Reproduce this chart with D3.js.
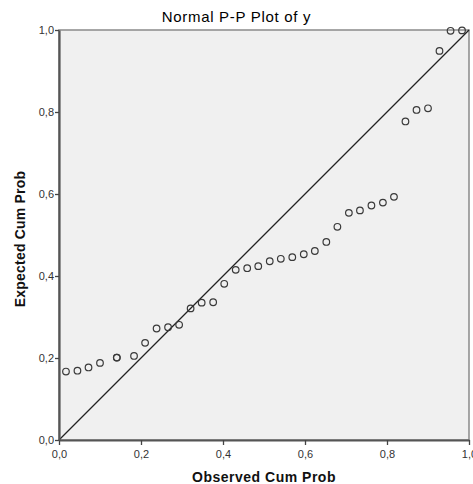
<!DOCTYPE html>
<html>
<head>
<meta charset="utf-8">
<script src="https://cdn.jsdelivr.net/npm/d3@7"></script>
<style>
  body { margin: 0; background: #fff; }
  svg { display: block; font-family: "Liberation Sans", Arial, sans-serif; }
</style>
</head>
<body>
<svg id="chart" width="473" height="484"></svg>
<script>
"use strict";
// observed cumulative probability (x) and expected cumulative probability (y)
const observed = [0.017, 0.045, 0.072, 0.100, 0.141, 0.141, 0.183, 0.210, 0.238, 0.266,
  0.293, 0.321, 0.348, 0.376, 0.403, 0.431, 0.459, 0.486, 0.514, 0.541,
  0.569, 0.597, 0.624, 0.652, 0.679, 0.707, 0.734, 0.762, 0.790, 0.817,
  0.845, 0.872, 0.900, 0.928, 0.955, 0.983];
const expected = [0.167, 0.169, 0.177, 0.188, 0.201, 0.201, 0.205, 0.237, 0.272, 0.275,
  0.281, 0.321, 0.335, 0.336, 0.381, 0.415, 0.419, 0.424, 0.436, 0.442,
  0.446, 0.453, 0.461, 0.483, 0.520, 0.554, 0.560, 0.572, 0.579, 0.593,
  0.777, 0.805, 0.809, 0.949, 0.998, 0.999];
const tickValues = [0, 0.2, 0.4, 0.6, 0.8, 1.0];

const margin = { top: 30, right: 4, bottom: 44, left: 59 };
const svg = d3.select("#chart");
const width = +svg.attr("width");
const plotW = 410, plotH = 410;

const x = d3.scaleLinear().domain([0, 1]).range([margin.left, margin.left + plotW]);
const y = d3.scaleLinear().domain([0, 1]).range([margin.top + plotH, margin.top]);

// comma as decimal separator, like the original
const fmt = d3.formatLocale({ decimal: ",", thousands: ".", grouping: [3], currency: ["", ""] }).format(".1f");

// plot background and frame
svg.append("rect")
  .attr("x", x(0)).attr("y", y(1))
  .attr("width", plotW).attr("height", plotH)
  .attr("fill", "#f0f0f0")
  .attr("stroke", "#8a8a8a")
  .attr("stroke-width", 1.5);

// reference line
svg.append("line")
  .attr("x1", x(0)).attr("y1", y(0))
  .attr("x2", x(1)).attr("y2", y(1))
  .attr("stroke", "#222")
  .attr("stroke-width", 1.3);

// points
const pts = observed.map((d, i) => ({ o: d, e: expected[i] }));
svg.append("g").selectAll("circle").data(pts).join("circle")
  .attr("cx", d => x(d.o))
  .attr("cy", d => y(d.e))
  .attr("r", 3.3)
  .attr("fill", "none")
  .attr("stroke", "#3a3a3a")
  .attr("stroke-width", 1.2);

// axes
const xAxis = svg.append("g")
  .attr("transform", `translate(0,${y(0)})`)
  .call(d3.axisBottom(x).tickValues(tickValues).tickFormat(fmt).tickSize(5).tickSizeOuter(0));
const yAxis = svg.append("g")
  .attr("transform", `translate(${x(0)},0)`)
  .call(d3.axisLeft(y).tickValues(tickValues).tickFormat(fmt).tickSize(4).tickSizeOuter(0));

[xAxis, yAxis].forEach(g => {
  g.select(".domain").attr("stroke", "#555").attr("stroke-width", 2.2);
  g.selectAll(".tick line").attr("stroke", "#444").attr("stroke-width", 1.3);
  g.selectAll(".tick text")
    .attr("fill", "#333")
    .style("font-size", "11px")
    .style("font-family", "'Liberation Sans', Arial, sans-serif");
});
xAxis.selectAll(".tick text").attr("dy", "0.95em");
yAxis.selectAll(".tick text").attr("x", -5);

// titles
svg.append("text")
  .attr("x", width / 2)
  .attr("y", 22)
  .attr("text-anchor", "middle")
  .attr("fill", "#000")
  .style("font-size", "15px")
  .style("letter-spacing", "0.7px")
  .text("Normal P-P Plot of y");

svg.append("text")
  .attr("x", x(0.5))
  .attr("y", 481.5)
  .attr("text-anchor", "middle")
  .attr("fill", "#111")
  .style("font-size", "14px")
  .style("font-weight", "bold")
  .style("letter-spacing", "0.5px")
  .text("Observed Cum Prob");

svg.append("text")
  .attr("transform", `translate(25,${y(0.5) + 4}) rotate(-90)`)
  .attr("text-anchor", "middle")
  .attr("fill", "#111")
  .style("font-size", "14px")
  .style("font-weight", "bold")
  .style("letter-spacing", "0.2px")
  .text("Expected Cum Prob");
</script>
</body>
</html>
